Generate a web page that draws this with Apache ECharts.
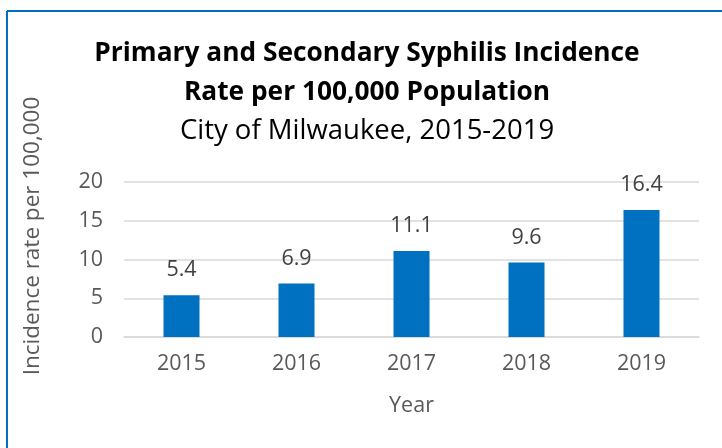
<!DOCTYPE html>
<html><head><meta charset="utf-8">
<script src="https://cdn.jsdelivr.net/npm/echarts@6/dist/echarts.min.js"></script>
<style>html,body{margin:0;padding:0;background:#fff}#c{width:722px;height:448px}</style>
</head><body><div id="c"></div>
<script>
const categories = ['2015', '2016', '2017', '2018', '2019'];
const rates = [5.4, 6.9, 11.1, 9.6, 16.4];
const yTicks = [0, 5, 10, 15, 20];
const titleLines = ['Primary and Secondary Syphilis Incidence', 'Rate per 100,000 Population'];
const subTitle = 'City of Milwaukee, 2015-2019';
const yName = 'Incidence rate per 100,000';
const xName = 'Year';

const FONT = '"Open Sans", "Noto Sans", sans-serif';
const chart = echarts.init(document.getElementById('c'), null, {renderer: 'canvas'});
chart.setOption({
  animation: false,
  textStyle: {fontFamily: FONT},
  title: {
    left: 362, top: 29, textAlign: 'center',
    text: '{b|' + titleLines[0] + '}\n{b|' + titleLines[1] + '}\n{n|' + subTitle + '}',
    textStyle: {
      fontWeight: 'normal',
      rich: {
        b: {fontFamily: FONT, fontWeight: 'bold', fontSize: 26.3, lineHeight: 39, color: '#000', align: 'center'},
        n: {fontFamily: FONT, fontWeight: 'normal', fontSize: 27.5, lineHeight: 39, color: '#000', align: 'center'}
      }
    }
  },
  graphic: [
    {type: 'line', shape: {x1: 7, y1: 11, x2: 722, y2: 11}, style: {stroke: '#0070c0', lineWidth: 2}},
    {type: 'line', shape: {x1: 7, y1: 11, x2: 7, y2: 448}, style: {stroke: '#0070c0', lineWidth: 2}},
    {type: 'text', x: 33, y: 236, rotation: Math.PI / 2,
     style: {text: yName, fontFamily: FONT, fontSize: 22.5, fill: '#595959', align: 'center', verticalAlign: 'middle'}}
  ],
  grid: {left: 124, right: 23, top: 182, bottom: 111},
  xAxis: {
    type: 'category', data: categories,
    axisLine: {lineStyle: {color: '#d9d9d9', width: 1.5}},
    axisTick: {show: false},
    axisLabel: {fontSize: 21.5, color: '#595959', margin: 16},
    name: xName, nameLocation: 'middle', nameGap: 58,
    nameTextStyle: {fontSize: 21.5, color: '#595959'}
  },
  yAxis: {
    type: 'value', min: yTicks[0], max: yTicks[yTicks.length - 1], interval: 5,
    axisLine: {show: false}, axisTick: {show: false},
    axisLabel: {fontSize: 21.5, color: '#595959', margin: 21},
    splitLine: {lineStyle: {color: '#d9d9d9', width: 1.5}}
  },
  series: [{
    type: 'bar', data: rates, barWidth: 36,
    itemStyle: {color: '#0070c0'},
    label: {show: true, position: 'top', distance: 14, fontSize: 21.5, color: '#404040'}
  }]
});
</script></body></html>
